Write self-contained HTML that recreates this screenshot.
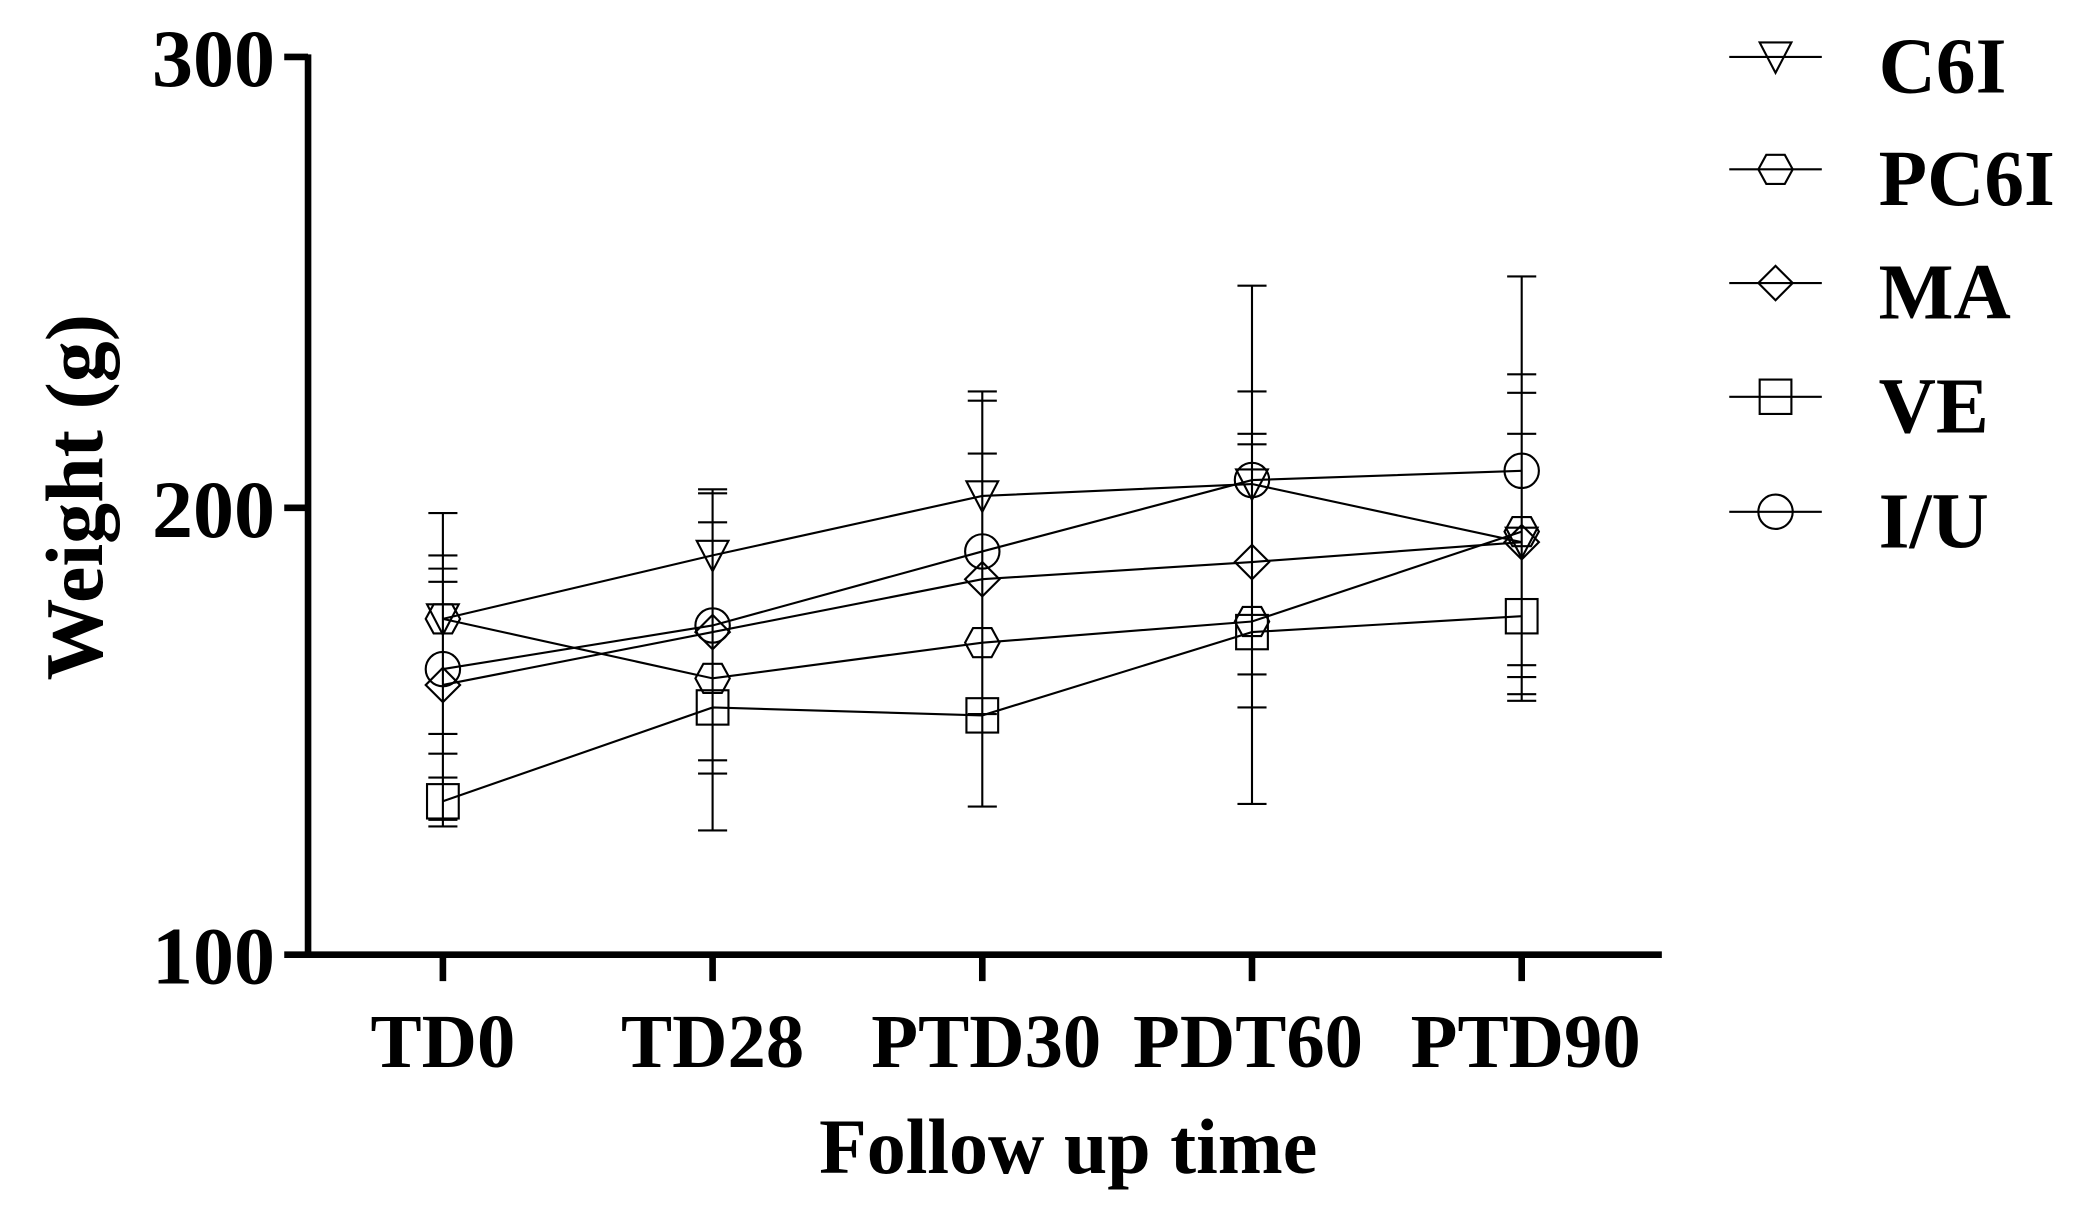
<!DOCTYPE html>
<html><head><meta charset="utf-8"><style>
html,body{margin:0;padding:0;background:#fff;}
svg{display:block;}
text{font-family:"Liberation Serif",serif;font-weight:bold;fill:#000;}
</style></head><body>
<svg width="2073" height="1206" viewBox="0 0 1568 912" xmlns="http://www.w3.org/2000/svg">
<defs>
<g id="tri"><polygon points="-12,-11 12,-11 0,12" fill="none" stroke="#000" stroke-width="1.6"/></g>
<g id="hex"><polygon points="-13,0 -7,-11 7,-11 13,0 7,11 -7,11" fill="none" stroke="#000" stroke-width="1.6"/></g>
<g id="dia"><polygon points="-13,0 0,-13 13,0 0,13" fill="none" stroke="#000" stroke-width="1.6"/></g>
<g id="sq"><rect x="-12" y="-13" width="24" height="26" fill="none" stroke="#000" stroke-width="1.6"/></g>
<g id="cir"><ellipse cx="0" cy="0" rx="13" ry="13" fill="none" stroke="#000" stroke-width="1.6"/></g>
</defs>
<g stroke="#000" stroke-width="1.6" fill="none">
<line x1="335" y1="388" x2="335" y2="625"/>
<path d="M324 388h22M324 420h22M324 430h22M324 440h22M324 555h22M324 570h22M324 588h22M324 620h22M324 625h22"/>
<line x1="539" y1="370" x2="539" y2="628"/>
<path d="M528 370h22M528 373h22M528 395h22M528 575h22M528 585h22M528 628h22"/>
<line x1="743" y1="296" x2="743" y2="610"/>
<path d="M732 296h22M732 303h22M732 343h22M732 540h22M732 610h22"/>
<line x1="947" y1="216" x2="947" y2="608"/>
<path d="M936 216h22M936 296h22M936 328h22M936 336h22M936 510h22M936 535h22M936 608h22"/>
<line x1="1151" y1="209" x2="1151" y2="530"/>
<path d="M1140 209h22M1140 283h22M1140 297h22M1140 328h22M1140 503h22M1140 512h22M1140 525h22M1140 530h22"/>
</g>
<g stroke="#000" stroke-width="1.6" fill="none">
<polyline points="335,468 539,420 743,375 947,366 1151,410"/>
<polyline points="335,468 539,513 743,486 947,470 1151,402"/>
<polyline points="335,518 539,478 743,438 947,425 1151,410"/>
<polyline points="335,606 539,535 743,541 947,478 1151,466"/>
<polyline points="335,506 539,473 743,417 947,363 1151,356"/>
</g>
<use href="#tri" x="335" y="468"/><use href="#tri" x="539" y="420"/><use href="#tri" x="743" y="375"/><use href="#tri" x="947" y="366"/><use href="#tri" x="1151" y="410"/>
<use href="#hex" x="335" y="468"/><use href="#hex" x="539" y="513"/><use href="#hex" x="743" y="486"/><use href="#hex" x="947" y="470"/><use href="#hex" x="1151" y="402"/>
<use href="#dia" x="335" y="518"/><use href="#dia" x="539" y="478"/><use href="#dia" x="743" y="438"/><use href="#dia" x="947" y="425"/><use href="#dia" x="1151" y="410"/>
<use href="#sq" x="335" y="606"/><use href="#sq" x="539" y="535"/><use href="#sq" x="743" y="541"/><use href="#sq" x="947" y="478"/><use href="#sq" x="1151" y="466"/>
<use href="#cir" x="335" y="506"/><use href="#cir" x="539" y="473"/><use href="#cir" x="743" y="417"/><use href="#cir" x="947" y="363"/><use href="#cir" x="1151" y="356"/>
<g stroke="#000" stroke-width="5" fill="none">
<line x1="233" y1="41" x2="233" y2="724"/>
<line x1="231" y1="722" x2="1257" y2="722"/>
<path d="M215 43h18M215 384h18M215 722h18"/>
<path d="M335 722v20M539 722v20M743 722v20M947 722v20M1151 722v20"/>
</g>
<g font-size="62" text-anchor="end">
<text x="208" y="65">300</text>
<text x="208" y="406">200</text>
<text x="208" y="744">100</text>
</g>
<g font-size="58" text-anchor="middle">
<text x="335" y="807">TD0</text>
<text x="539" y="807">TD28</text>
<text x="746" y="807">PTD30</text>
<text x="944" y="807">PDT60</text>
<text x="1154" y="807">PTD90</text>
</g>
<text x="808" y="887" font-size="59" text-anchor="middle">Follow up time</text>
<text transform="translate(77,376) rotate(-90)" font-size="62" text-anchor="middle">Weight (g)</text>
<g stroke="#000" stroke-width="1.6" fill="none">
<path d="M1308 43h70M1308 128h70M1308 214h70M1308 300h70M1308 387h70"/>
</g>
<use href="#tri" x="1343" y="43"/><use href="#hex" x="1343" y="128"/><use href="#dia" x="1343" y="214"/><use href="#sq" x="1343" y="300"/><use href="#cir" x="1343" y="387"/>
<g font-size="60">
<text x="1421" y="70">C6I</text>
<text x="1421" y="155">PC6I</text>
<text x="1421" y="241">MA</text>
<text x="1421" y="327">VE</text>
<text x="1421" y="414">I/U</text>
</g>
</svg>
</body></html>
